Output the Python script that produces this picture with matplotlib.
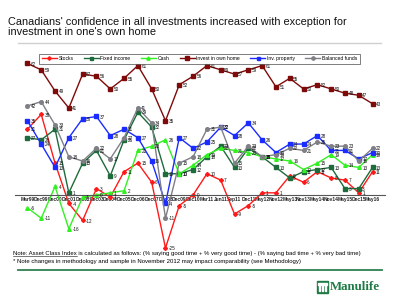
import matplotlib
matplotlib.use("Agg")
import matplotlib.pyplot as plt
from matplotlib.lines import Line2D
from matplotlib.patches import Rectangle

plt.rcParams['font.family'] = ['Liberation Sans', 'DejaVu Sans']

# ----------------------------
# data
# ----------------------------
periods = ["Mar99", "Dec99", "Dec00", "Dec01", "Dec02", "Dec03", "Dec04", "Dec05",
           "Dec06", "Dec07", "Dec08", "Dec09", "Dec10", "Mar11", "Jun11", "Sep11",
           "Dec11", "May12", "Nov12", "May13", "Nov13", "May14", "Nov14", "May15",
           "Dec15", "May16"]

stocks = [31, 38, 15, -4, -12, 3, -1, 11, 15, 6, -25, -5, 0, 10, 7, -9,
          -5, 1, 1, 9, 6, 11, 8, 7, 1, 11]
fixed_income = [27, 26, 31, 1, 15, 21, 9, 26, 39, 32, 10, 10, 12, 18, 23, 13,
                22, 18, 13, 8, 11, 12, 13, 3, 3, 13]
cash = [-6, -11, 4, -16, -1, 0, 1, 2, 21, 23, 26, 10, 14, 19, 22, 21,
        20, 18, 17, 16, 12, 15, 19, 14, 13, 19]
own_home = [62, 59, 49, 41, 57, 56, 50, 55, 61, 50, 35, 52, 56, 61, 59, 57,
            59, 61, 51, 55, 50, 52, 50, 48, 47, 43]
inv_property = [35, 24, 13, 27, 36, 37, 28, 31, 27, 16, -4, 27, 22, 25, 32, 28,
                34, 26, 20, 24, 24, 28, 21, 21, 17, 20]
balanced = [42, 44, 33, 18, 16, 22, 17, 27, 41, 34, -11, 15, 18, 31, 32, 15,
            23, 18, 19, 22, 21, 25, 23, 23, 16, 22]

series = [
    ("Stocks", stocks, "#ff1a1a", "D", 2.0),
    ("Fixed income", fixed_income, "#1e6b3c", "s", 2.4),
    ("Cash", cash, "#33f022", "^", 2.6),
    ("Invest in own home", own_home, "#7f0a0a", "s", 3.4),
    ("Inv. property", inv_property, "#1a2cff", "s", 2.4),
    ("Balanced funds", balanced, "#7f7f86", "o", 2.6),
]

W, H = 400, 301
fig = plt.figure(figsize=(4, 3.01), dpi=100)

def fx(px):
    return px / W

def fy(py):
    return 1 - py / H

# title + rule
fig.text(fx(8), fy(17), "Canadians' confidence in all investments increased with exception for\n"
         "investment in one's own home", fontsize=7.9, va="top", ha="left",
         linespacing=1.0, color="#111111")
fig.add_artist(Line2D([fx(18), fx(381)], [fy(43), fy(43)], color="#cfcfcf", lw=1.0))

# ----------------------------
# chart
# ----------------------------
ax = fig.add_axes([fx(15), fy(252), fx(370), (252 - 55) / H])
x = list(range(len(periods)))

for name, vals, col, mk, ms in series:
    ax.plot(x, vals, color=col, marker=mk, markersize=ms, lw=1.0, label=name)
    for i, v in zip(x, vals):
        ax.annotate(str(v), (i, v), xytext=(2.5, -0.5), textcoords="offset points",
                    fontsize=3.3, ha="left", va="center", color="#111111")

ax.set_xlim(-0.9, 25.9)
ax.set_ylim(-26.9, 66)
ax.set_yticks([])
for s in ["top", "right", "left"]:
    ax.spines[s].set_visible(False)
ax.spines["bottom"].set_position(("data", 0))
ax.spines["bottom"].set_color("#555555")
ax.spines["bottom"].set_linewidth(0.8)
ax.set_xticks(x)
ax.set_xticklabels(periods, fontsize=3.5, fontweight="bold", color="#222222")
ax.tick_params(axis="x", length=0, pad=1.5)
ax.patch.set_alpha(0)

leg = fig.legend(loc="center", bbox_to_anchor=(fx(199.5), fy(58.5)), ncol=6,
                 fontsize=3.6, frameon=True, fancybox=False, handlelength=3.0,
                 columnspacing=2.0, handletextpad=0.4, borderpad=0.5,
                 markerscale=0.9)
leg.get_frame().set_edgecolor("#444444")
leg.get_frame().set_linewidth(0.6)

# ----------------------------
# notes
# ----------------------------
note1 = ("Note: Asset Class Index is calculated as follows: (% saying good time + "
         "% very good time) - (% saying bad time + % very bad time)")
fig.text(fx(13), fy(253), note1, fontsize=4.3, va="center", ha="left")
# measure the underlined part with a hidden copy
probe = fig.text(fx(13), fy(253), "Note: Asset Class Index", fontsize=4.3,
                 va="center", ha="left", alpha=0)
fig.canvas.draw()
bb = probe.get_window_extent()
fig.add_artist(Line2D([fx(13), bb.x1 / W], [fy(255.6), fy(255.6)], color="#111111", lw=0.4))
fig.text(fx(13), fy(261), "* Note changes in methodology and sample in November 2012 "
         "may impact comparability (see Methodology)", fontsize=4.3, va="center", ha="left")

fig.add_artist(Line2D([fx(18), fx(382)], [fy(269.5), fy(269.5)], color="#2f7f4f", lw=1.3))

# logo
green = "#1f7a45"
fig.add_artist(Rectangle((fx(317), fy(293)), fx(11), 12 / H, color=green))
for bx in [318.8, 321.8, 324.8]:
    fig.add_artist(Rectangle((fx(bx), fy(291)), fx(1.6), 7 / H, color="white"))
fig.add_artist(Rectangle((fx(318.3), fy(284.5)), fx(8.4), 1.3 / H, color="white"))
fig.text(fx(330), fy(287.5), "Manulife", fontsize=9.3, family="Liberation Serif",
         fontweight="bold", color=green, va="center", ha="left")

fig.savefig("out.png", dpi=100)
